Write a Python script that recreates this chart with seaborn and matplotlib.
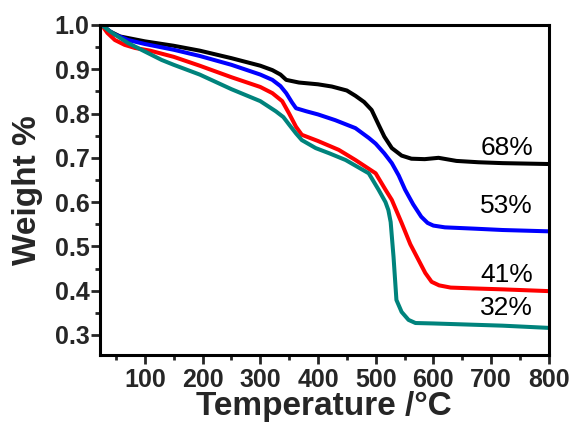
import numpy as np
import pandas as pd
import matplotlib
matplotlib.use('Agg')
import matplotlib.pyplot as plt
from matplotlib.ticker import MultipleLocator
import seaborn as sns

# TGA curves
temp_black = [25, 40, 57, 100, 150, 195, 250, 300, 321, 335, 345, 367, 400, 424, 450, 465,
              480, 493, 505, 515, 528, 545, 562, 585, 609, 640, 678, 720, 760, 800]
wt_black = [1.0, 0.985, 0.974, 0.963, 0.953, 0.942, 0.925, 0.908, 0.898, 0.888, 0.876, 0.870,
            0.866, 0.861, 0.852, 0.840, 0.826, 0.808, 0.775, 0.748, 0.722, 0.705, 0.698, 0.697,
            0.700, 0.693, 0.690, 0.688, 0.687, 0.686]

temp_blue = [25, 45, 71, 100, 150, 195, 250, 300, 321, 335, 345, 355, 362, 380, 400, 430, 465,
             488, 500, 515, 528, 540, 551, 565, 579, 590, 600, 620, 672, 720, 800]
wt_blue = [1.0, 0.980, 0.966, 0.957, 0.944, 0.930, 0.910, 0.888, 0.876, 0.862, 0.846, 0.825,
           0.812, 0.805, 0.798, 0.785, 0.767, 0.745, 0.732, 0.710, 0.688, 0.660, 0.628, 0.595,
           0.567, 0.553, 0.547, 0.543, 0.540, 0.537, 0.534]

temp_red = [25, 35, 48, 65, 83, 109, 150, 195, 250, 300, 321, 338, 350, 362, 372, 400, 436,
            465, 500, 517, 528, 545, 560, 574, 586, 597, 610, 630, 672, 720, 800]
wt_red = [1.0, 0.982, 0.966, 0.955, 0.948, 0.942, 0.928, 0.908, 0.882, 0.860, 0.846, 0.828,
          0.800, 0.770, 0.752, 0.738, 0.718, 0.695, 0.665, 0.628, 0.605, 0.553, 0.505, 0.470,
          0.440, 0.420, 0.412, 0.407, 0.405, 0.403, 0.399]

temp_teal = [25, 40, 71, 100, 129, 150, 195, 250, 300, 327, 340, 350, 362, 372, 396, 420, 448,
             488, 505, 517, 522, 526, 531, 536, 545, 557, 569, 600, 672, 720, 800]
wt_teal = [1.0, 0.985, 0.959, 0.940, 0.921, 0.910, 0.888, 0.855, 0.828, 0.805, 0.792, 0.775,
           0.755, 0.740, 0.722, 0.710, 0.695, 0.665, 0.628, 0.600, 0.582, 0.555, 0.476, 0.379,
           0.352, 0.334, 0.327, 0.326, 0.323, 0.321, 0.316]

residue_labels = ['68%', '53%', '41%', '32%']
label_y = [0.706, 0.576, 0.420, 0.345]

sns.set_theme(style='ticks')
plt.rcParams['font.family'] = ['Liberation Sans', 'DejaVu Sans']

fig = plt.figure(figsize=(5.74, 4.23), dpi=100)
ax = fig.add_axes([0.174, 0.161, 0.782, 0.780])

series = [(temp_black, wt_black, 'black'),
          (temp_blue, wt_blue, '#0000ff'),
          (temp_red, wt_red, '#ff0000'),
          (temp_teal, wt_teal, '#00837c')]
for t, w, c in series:
    df = pd.DataFrame({'T': t, 'W': w})
    sns.lineplot(data=df, x='T', y='W', color=c, linewidth=2.9, ax=ax, sort=False)

for txt, y in zip(residue_labels, label_y):
    ax.text(773, y, txt, ha='right', va='baseline', fontsize=19, color='black')

ax.set_xlim(22, 800)
ax.set_ylim(0.255, 1.0)
ax.xaxis.set_minor_locator(MultipleLocator(50))
ax.yaxis.set_minor_locator(MultipleLocator(0.05))
ax.set_xticks(np.arange(100, 801, 100))
ax.set_yticks(np.arange(0.3, 1.01, 0.1))
ax.set_yticklabels([f'{v:.1f}' for v in np.arange(0.3, 1.01, 0.1)])

for s in ax.spines.values():
    s.set_linewidth(2.2)
    s.set_color('black')
ax.tick_params(which='major', direction='out', length=6.5, width=2, pad=1,
               labelsize=18, top=False, right=False)
ax.tick_params(axis='x', which='major', pad=3)
ax.tick_params(which='minor', direction='out', length=3.5, width=2, top=False, right=False)
for lab in ax.get_xticklabels() + ax.get_yticklabels():
    lab.set_fontweight('bold')

ax.set_xlabel('Temperature /°C', fontsize=24, fontweight='bold', labelpad=-1)
ax.set_ylabel('Weight %', fontsize=24, fontweight='bold', labelpad=8)

fig.savefig('out.png', dpi=100)
